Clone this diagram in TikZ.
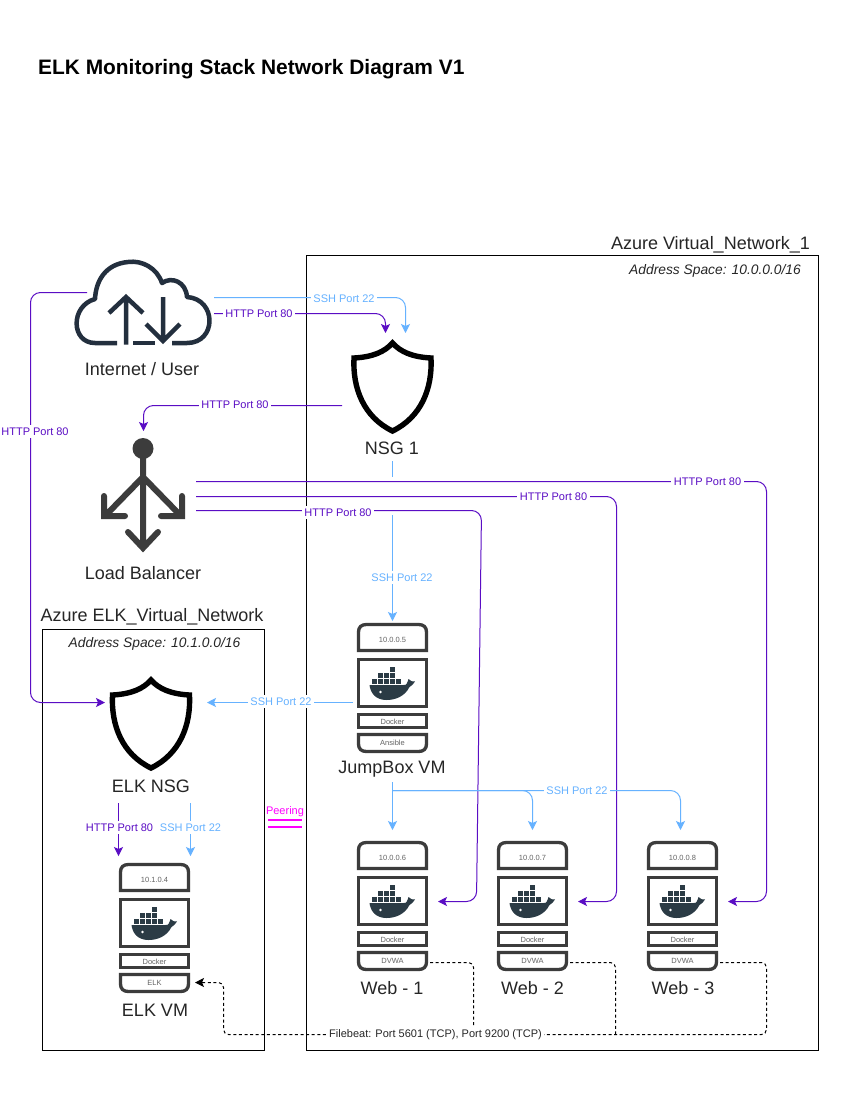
\documentclass[tikz,border=0pt]{standalone}
\usepackage{fontspec}
\setmainfont{Liberation Sans}
\usetikzlibrary{arrows.meta}
\definecolor{pur}{HTML}{5A0DC4}
\definecolor{sky}{HTML}{66B2FF}
\definecolor{mag}{HTML}{FF00FF}
\definecolor{ink}{HTML}{3C3C3C}
\definecolor{cloudc}{HTML}{232F3E}
\definecolor{whale}{HTML}{2B3B45}
\tikzset{
  x=1pt,y=-1pt,
  conn/.style={rounded corners=10pt,line width=1pt},
  tip/.style={-{Stealth[length=9pt,width=9pt,inset=2pt]}},
  hp/.style={conn,draw=pur,tip},
  ss/.style={conn,draw=sky,tip},
  ssn/.style={conn,draw=sky},
  dsh/.style={line width=1pt,rounded corners=5pt,draw=black,dash pattern=on 3pt off 2.6pt},
  lab/.style={fill=white,inner sep=2.5pt,font=\fontsize{11}{13}\selectfont,yshift=-0.7pt},
  hl/.style={lab,text=pur},
  sl/.style={lab,text=sky},
  cap1/.style={font=\fontsize{18}{21}\selectfont,text=black!85,inner sep=0pt,yshift=-1pt},
  box/.style={draw=black,line width=1pt,fill=none},
  slot/.style={draw=ink,line width=3.3pt,fill=white},
  tiny/.style={font=\fontsize{7.5}{9}\selectfont,text=ink!80,inner sep=0pt},
  shieldst/.style={draw=black,line width=5.4pt,fill=white,line join=miter},
}
% docker whale, centred on the origin
\newcommand{\whale}{%
  \fill[whale] (-23,2) -- (11,2) .. controls (14,3) and (15,-1) .. (16,-4)
     .. controls (18,-2) and (20,-1) .. (22.5,-1.5) .. controls (21,1) and (19,3) .. (17,4)
     .. controls (12,14) and (2,17) .. (-6,17) .. controls (-17,17) and (-22,10) .. (-23,2) -- cycle;
  \foreach \a/\b in {-20.5/-4,-14.5/-4,-8.5/-4,-2.5/-4,3.5/-4,-14.5/-10,-8.5/-10,-2.5/-10,-2.5/-16}
    \fill[whale] (\a,\b) rectangle +(5,5);
  \fill[white] (-12,9) circle (1.3);
}
% x centre, top y, name, ip, first strip, second strip
\newcommand{\serverbox}[6]{%
  \begin{scope}[shift={(#1,#2)}]
    \draw[slot] (-34,28.5) -- (-34,10) .. controls (-34,5) and (-31,2.5) .. (-26,2.5) -- (26,2.5) .. controls (31,2.5) and (34,5) .. (34,10) -- (34,28.5) -- cycle;
    \draw[slot] (-34,37.5) rectangle (34,84.5);
    \draw[slot] (-34,92.5) rectangle (34,105.5);
    \draw[slot] (-34,112.5) -- (-34,122) .. controls (-34,127) and (-31,129.5) .. (-26,129.5) -- (26,129.5) .. controls (31,129.5) and (34,127) .. (34,122) -- (34,112.5) -- cycle;
    \begin{scope}[shift={(0,61)}]\whale\end{scope}
    \node[tiny] (#3ip) at (0,18) {#4};
    \node[tiny] (#3a) at (0,99.5) {#5};
    \node[tiny] (#3b) at (0,121) {#6};
  \end{scope}
}
\newcommand{\shieldicon}[2]{%
  \begin{scope}[shift={(#1,#2)}]
    \draw[shieldst] (0,-30) .. controls (8,-21) and (20,-16) .. (38.5,-15)
      .. controls (40,15) and (29,44) .. (0,58)
      .. controls (-29,44) and (-40,15) .. (-38.5,-15)
      .. controls (-20,-16) and (-8,-21) .. (0,-30) -- cycle;
  \end{scope}
}
\begin{document}
\begin{tikzpicture}
\useasboundingbox (0,0) rectangle (851,1101);
\fill[white] (0,0) rectangle (851,1101);

\node[anchor=west,font=\bfseries\fontsize{20.9}{25}\selectfont,inner sep=0pt] (title) at (38,69) {ELK Monitoring Stack Network Diagram V1};

% vnet boxes
\draw[box] (306.5,255.5) rectangle (818.5,1050.5);
\draw[box] (42.5,629.5) rectangle (264.5,1050.5);
\node[cap1,anchor=east] (vnetone) at (810,244) {Azure Virtual\_Network\_1};
\node[font=\itshape\fontsize{13.8}{16}\selectfont,anchor=east,inner sep=0pt,text=black!85] (addrone) at (801,270.5) {Address Space: 10.0.0.0/16};
\node[cap1] (vnettwo) at (152,616) {Azure ELK\_Virtual\_Network};
\node[font=\itshape\fontsize{13.8}{16}\selectfont,inner sep=0pt,text=black!85] (addrtwo) at (154.5,643.5) {Address Space: 10.1.0.0/16};

% cloud
\draw[cloudc,line width=4.5pt,line join=round]
  (117,343) -- (95,343) .. controls (71,343) and (70,306) .. (95,299)
  .. controls (96,280) and (106,264) .. (128,262) .. controls (142,260) and (157,268) .. (162,283)
  .. controls (172,276) and (186,282) .. (187,297) .. controls (217,299) and (217,343) .. (187,343) -- (172,343);
\draw[cloudc,line width=4.5pt] (133,343) -- (155,343);
\draw[cloudc,line width=4.5pt,line join=miter] (126,344.5) -- (126,298) (109,313) -- (126,297) -- (143,313);
\draw[cloudc,line width=4.5pt,line join=miter] (163,297) -- (163,340) (146,324) -- (163,341) -- (180,324);
\node[cap1] (cloudlab) at (142,368) {Internet / User};

% nsg 1
\shieldicon{392.5}{373}
\node[cap1] (nsgonelab) at (392,447) {NSG 1};

% load balancer
\fill[ink] (143,448.5) circle (10.5);
\draw[ink,line width=6pt,line cap=round,line join=miter]
  (143,449) -- (143,548) (128,532) -- (143,548) -- (158,532)
  (143,477) -- (105,516) (143,477) -- (181,516)
  (104,496) -- (104,516) -- (125,516)
  (182,496) -- (182,516) -- (161,516);
\node[cap1] (lblab) at (143,572) {Load Balancer};

% elk nsg
\shieldicon{151}{710}
\node[cap1] (nsgtwolab) at (151,785) {ELK NSG};

% servers
\serverbox{392.5}{622}{jump}{10.0.0.5}{Docker}{Ansible}
\node[cap1] (jumplab) at (392,768) {JumpBox VM};
\serverbox{392.5}{840}{webone}{10.0.0.6}{Docker}{DVWA}
\node[cap1] (webonelab) at (392,987) {Web - 1};
\serverbox{532.5}{840}{webtwo}{10.0.0.7}{Docker}{DVWA}
\node[cap1] (webtwolab) at (532.5,987) {Web - 2};
\serverbox{682.5}{840}{webthree}{10.0.0.8}{Docker}{DVWA}
\node[cap1] (webthreelab) at (683,987) {Web - 3};
\serverbox{154.5}{862}{elk}{10.1.0.4}{Docker}{ELK}
\node[cap1] (elklab) at (155,1009) {ELK VM};

% anchor points on the icons
\coordinate (cloudl) at (87,292.5);
\coordinate (cloudss) at (214,297.5);
\coordinate (cloudhp) at (214,313.5);
\coordinate (nsgss) at (405.5,333);
\coordinate (nsghp) at (385.5,333);
\coordinate (nsgw) at (342,405.5);
\coordinate (nsgs) at (392.5,461);
\coordinate (nsgt) at (392.5,477);
\coordinate (jumpa) at (392.5,515);
\coordinate (lbtop) at (143.5,431);
\coordinate (lbea) at (196,481.5);
\coordinate (lbeb) at (196,496.5);
\coordinate (lbec) at (196,510.5);
\coordinate (elknsgw) at (105,702.5);
\coordinate (elknsge) at (207,702.5);
\coordinate (jumpw) at (353,702.5);
\coordinate (jumpn) at (392.5,621);
\coordinate (jumps) at (392.5,782);
\coordinate (split) at (392.5,790.5);
\coordinate (wonen) at (392.5,830);
\coordinate (wtwon) at (532.5,830);
\coordinate (wthreen) at (680.5,830);
\coordinate (woneg) at (438,901.5);
\coordinate (wtwog) at (578,901.5);
\coordinate (wthreeg) at (728,901.5);
\coordinate (wonef) at (430,962.5);
\coordinate (wtwof) at (570,962.5);
\coordinate (wthreef) at (720,962.5);
\coordinate (elkf) at (195,982.5);
\coordinate (elknh) at (118.5,803);
\coordinate (elkns) at (190.5,803);
\coordinate (elkah) at (118.5,856);
\coordinate (elkas) at (190.5,856);

% connectors
\draw[hp] (cloudl) -- (30.5,292.5) -- (30.5,702.5) -- (elknsgw);
\node[hl] (l1) at (35,431) {HTTP Port 80};
\draw[ss] (cloudss) -- (405.5,297.5) -- (nsgss);
\node[sl] (l2) at (344,298) {SSH Port 22};
\draw[hp] (cloudhp) -- (385.5,313.5) -- (nsghp);
\node[hl] (l3) at (259,313) {HTTP Port 80};
\draw[hp] (nsgw) -- (143.5,405.5) -- (lbtop);
\node[hl] (l4) at (235,404) {HTTP Port 80};
\draw[ssn] (nsgs) -- (nsgt);
\draw[ss] (jumpa) -- (jumpn);
\node[sl] (l5) at (402,577) {SSH Port 22};
\draw[hp] (lbea) -- (766.5,481.5) -- (766.5,901.5) -- (wthreeg);
\node[hl] (l6) at (707.5,481) {HTTP Port 80};
\draw[hp] (lbeb) -- (616.5,496.5) -- (616.5,901.5) -- (wtwog);
\node[hl] (l7) at (553.5,496) {HTTP Port 80};
\draw[hp] (lbec) -- (481.5,510.5) -- (476.5,901.5) -- (woneg);
\node[hl] (l8) at (338,512) {HTTP Port 80};
\draw[ss] (jumpw) -- (elknsge);
\node[sl] (l9) at (281,701) {SSH Port 22};
\draw[ss] (jumps) -- (wonen);
\draw[ss] (split) -- (532.5,790.5) -- (wtwon);
\draw[ss] (split) -- (680.5,790.5) -- (wthreen);
\node[sl] (l10) at (577,790) {SSH Port 22};
\draw[hp] (elknh) -- (elkah);
\node[hl] (l11) at (119.5,827) {HTTP Port 80};
\draw[ss] (elkns) -- (elkas);
\node[sl] (l12) at (190.5,827) {SSH Port 22};

% peering
\node[font=\fontsize{11}{13}\selectfont,text=mag,inner sep=0pt] (peer) at (285,812) {Peering};
\draw[mag,line width=2pt] (268,820) -- (302,820) (268,827) -- (302,827);

% filebeat
\draw[dsh] (wonef) -- (473.5,962.5) -- (473.5,1034.5);
\draw[dsh] (wtwof) -- (615.5,962.5) -- (615.5,1034.5);
\draw[dsh,tip] (wthreef) -- (766.5,962.5) -- (766.5,1034.5) -- (223.5,1034.5) -- (223.5,982.5) -- (elkf);
\node[lab,text=black!85] (l13) at (435.5,1034) {Filebeat: Port 5601 (TCP), Port 9200 (TCP)};
\end{tikzpicture}
\end{document}
